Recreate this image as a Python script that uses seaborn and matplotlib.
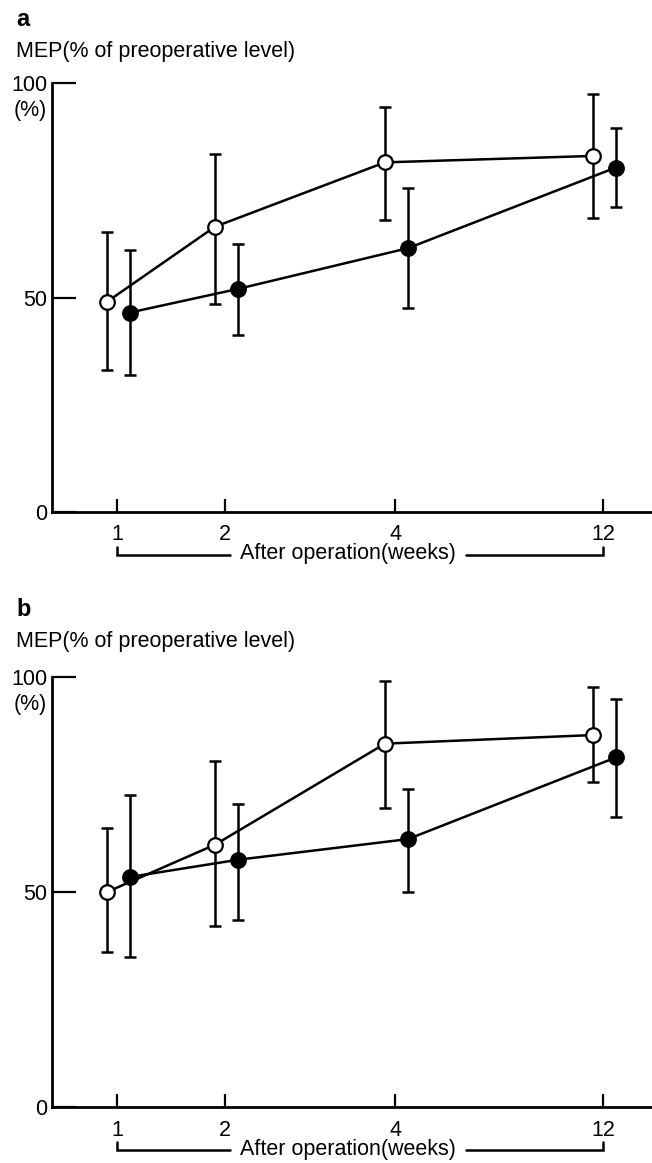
import numpy as np
import pandas as pd
import matplotlib
matplotlib.use("Agg")
import matplotlib.pyplot as plt
import matplotlib.transforms as mtransforms
import seaborn as sns

# ---------------- data ----------------
weeks = ["1", "2", "4", "12"]
panel_letters = ["a", "b"]
y_title = "MEP(% of preoperative level)"
x_title = "After operation(weeks)"

a_open = [49.0, 66.5, 81.5, 83.0]
a_open_hi = [65.3, 83.5, 94.5, 97.5]
a_open_lo = [33.0, 48.5, 68.0, 68.5]
a_fill = [46.5, 52.0, 61.5, 80.3]
a_fill_hi = [61.0, 62.5, 75.5, 89.5]
a_fill_lo = [32.0, 41.3, 47.5, 71.0]

b_open = [50.0, 61.0, 84.5, 86.5]
b_open_hi = [65.0, 80.5, 99.0, 97.7]
b_open_lo = [36.0, 42.0, 69.5, 75.5]
b_fill = [53.5, 57.5, 62.3, 81.3]
b_fill_hi = [72.5, 70.5, 74.0, 95.0]
b_fill_lo = [35.0, 43.5, 50.0, 67.5]

# ---------------- layout ----------------
tick_pos = [0.65, 1.73, 3.43, 5.51]
off_open, off_fill = -0.10, 0.13

sns.set_theme(style="white")
plt.rcParams["font.family"] = ["Liberation Sans", "DejaVu Sans"]
plt.rcParams["text.color"] = "black"
plt.rcParams["xtick.color"] = "black"
plt.rcParams["ytick.color"] = "black"

W, H, DPI = 652, 1163, 100
fig = plt.figure(figsize=(W / DPI, H / DPI), dpi=DPI)

def px_axes(top_px, bottom_px):
    left = 52 / W
    width = 600 / W
    return [left, 1 - bottom_px / H, width, (bottom_px - top_px) / H]

panels = [
    dict(letter="a", pos=px_axes(83, 512), letter_y=20, title_y=52,
         open=(a_open, a_open_lo, a_open_hi), fill=(a_fill, a_fill_lo, a_fill_hi)),
    dict(letter="b", pos=px_axes(677, 1107), letter_y=610, title_y=641,
         open=(b_open, b_open_lo, b_open_hi), fill=(b_fill, b_fill_lo, b_fill_hi)),
]

FS = 15.5
fig.canvas.draw()
renderer = fig.canvas.get_renderer()
for p in panels:
    ax = fig.add_axes(p["pos"])
    for key, off, face in (("open", off_open, "white"), ("fill", off_fill, "black")):
        vals, lo, hi = p[key]
        df = pd.DataFrame({"x": np.array(tick_pos) + off, "y": vals})
        vals_a = np.array(vals)
        yerr = np.vstack([vals_a - np.array(lo), np.array(hi) - vals_a])
        ax.errorbar(df["x"], df["y"], yerr=yerr, fmt="none", ecolor="black",
                    elinewidth=1.8, capsize=4.5, capthick=1.8, zorder=2, clip_on=False)
        sns.lineplot(data=df, x="x", y="y", ax=ax, color="black", linewidth=1.8,
                     marker="o", markersize=10.5, markerfacecolor=face,
                     markeredgecolor="black", markeredgewidth=1.6, zorder=3,
                     clip_on=False, sort=False)

    ax.set_xlim(0, 6.0)
    ax.set_ylim(0, 100)
    for s in ("top", "right"):
        ax.spines[s].set_visible(False)
    for s in ("left", "bottom"):
        ax.spines[s].set_linewidth(2.0)
        ax.spines[s].set_color("black")
    ax.set_xticks(tick_pos)
    ax.set_xticklabels(weeks)
    ax.set_yticks([0, 50, 100])
    ax.set_yticklabels(["0", "50", "100"])
    ax.tick_params(axis="x", direction="in", length=9.5, width=1.6, pad=9,
                   labelsize=FS, colors="black", bottom=True)
    ax.tick_params(axis="y", direction="in", length=17, width=1.6, pad=3.5,
                   labelsize=FS, colors="black", left=True)
    ax.set_xlabel("")
    ax.set_ylabel("")
    ax.patch.set_alpha(0)

    # "(%)" under the 100 label
    ax.text(-0.22, 93.6, "(%)", ha="center", va="center", fontsize=FS)

    # bracket with x title
    y0_in = ax.get_position().y0 * H / DPI
    btr = mtransforms.blended_transform_factory(ax.transData, fig.dpi_scale_trans)
    y_line = y0_in - 0.43
    y_hook = y0_in - 0.35
    xc = (tick_pos[0] + tick_pos[-1]) / 2 - 0.12
    t = ax.text(xc, y_line + 0.01, x_title, transform=btr, ha="center",
                va="center", fontsize=FS)
    bb = t.get_window_extent(renderer=renderer)
    inv = ax.transData.inverted()
    xl = inv.transform((bb.x0, 0))[0] - 0.10
    xr = inv.transform((bb.x1, 0))[0] + 0.10
    ax.plot([xl, tick_pos[0], tick_pos[0]], [y_line, y_line, y_hook],
            transform=btr, color="black", linewidth=1.8, clip_on=False,
            solid_joinstyle="miter")
    ax.plot([xr, tick_pos[-1], tick_pos[-1]], [y_line, y_line, y_hook],
            transform=btr, color="black", linewidth=1.8, clip_on=False,
            solid_joinstyle="miter")

    # panel letter and y title
    fig.text(16 / W, 1 - p["letter_y"] / H, p["letter"], fontsize=17,
             fontweight="bold", ha="left", va="center")
    fig.text(16 / W, 1 - p["title_y"] / H, y_title, fontsize=FS,
             ha="left", va="center")

fig.savefig("out.png", dpi=DPI)
